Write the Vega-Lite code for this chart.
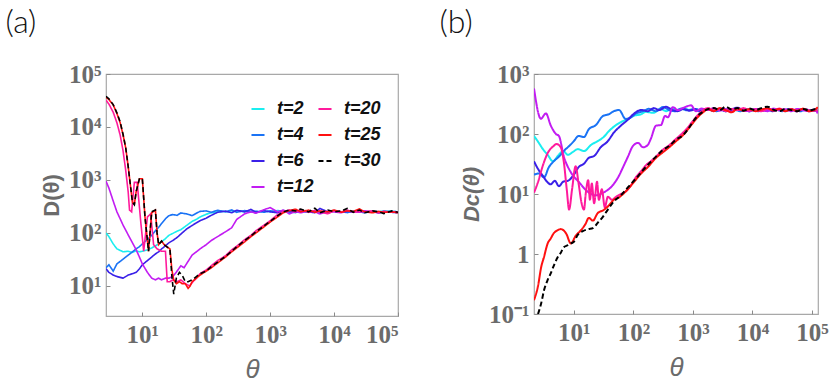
{
"$schema": "https://vega.github.io/schema/vega-lite/v6.json",
"background": "white",
"padding": {"left": 4, "top": 6, "right": 0, "bottom": 4},
"config": {
  "view": {"stroke": "#a8a8a8", "strokeWidth": 1.2},
  "axis": {"domain": false, "grid": false, "ticks": true, "tickSize": -4, "tickColor": "#8a8a8a",
    "labelFont": "Liberation Serif", "labelFontWeight": "bold", "labelFontSize": 25, "labelColor": "#6b6b6b",
    "titleColor": "#6b6b6b", "titleFont": "Liberation Sans"},
  "title": {"anchor": "start", "frame": "bounds", "fontSize": 32, "font": "Lato", "fontWeight": 300, "color": "#111"}
},
"datasets": {
"a": [
{"t":"t=2","x":2.7,"y":100},{"t":"t=2","x":3,"y":85},{"t":"t=2","x":3.5,"y":62},{"t":"t=2","x":4,"y":50},{"t":"t=2","x":5,"y":44},{"t":"t=2","x":6,"y":45},{"t":"t=2","x":7,"y":43},{"t":"t=2","x":8,"y":46},{"t":"t=2","x":9,"y":44},{"t":"t=2","x":10,"y":45},{"t":"t=2","x":12,"y":48},{"t":"t=2","x":14,"y":52},{"t":"t=2","x":16,"y":57},{"t":"t=2","x":18,"y":62},{"t":"t=2","x":20,"y":68},{"t":"t=2","x":23,"y":78},{"t":"t=2","x":26,"y":90},{"t":"t=2","x":30,"y":98},{"t":"t=2","x":35,"y":108},{"t":"t=2","x":40,"y":115},{"t":"t=2","x":50,"y":140},{"t":"t=2","x":60,"y":165},{"t":"t=2","x":70,"y":180},{"t":"t=2","x":80,"y":200},{"t":"t=2","x":100,"y":225},{"t":"t=2","x":120,"y":240},{"t":"t=2","x":150,"y":250},{"t":"t=2","x":200,"y":255},{"t":"t=2","x":250,"y":245},{"t":"t=2","x":300,"y":262},{"t":"t=2","x":400,"y":250},{"t":"t=2","x":500,"y":255},{"t":"t=2","x":600,"y":240},{"t":"t=2","x":800,"y":262},{"t":"t=2","x":1000,"y":250},{"t":"t=2","x":1300,"y":265},{"t":"t=2","x":1600,"y":255},{"t":"t=2","x":2000,"y":240},{"t":"t=2","x":2500,"y":262},{"t":"t=2","x":3000,"y":250},{"t":"t=2","x":4000,"y":245},{"t":"t=2","x":5000,"y":262},{"t":"t=2","x":6000,"y":250},{"t":"t=2","x":8000,"y":240},{"t":"t=2","x":10000,"y":255},{"t":"t=2","x":13000,"y":250},{"t":"t=2","x":16000,"y":245},{"t":"t=2","x":20000,"y":262},{"t":"t=2","x":25000,"y":250},{"t":"t=2","x":30000,"y":255},{"t":"t=2","x":40000,"y":245},{"t":"t=2","x":50000,"y":250},{"t":"t=2","x":60000,"y":262},{"t":"t=2","x":80000,"y":255},{"t":"t=2","x":100000,"y":250},
{"t":"t=4","x":2.7,"y":22},{"t":"t=4","x":3,"y":25},{"t":"t=4","x":3.5,"y":19},{"t":"t=4","x":4,"y":26},{"t":"t=4","x":5,"y":32},{"t":"t=4","x":6,"y":38},{"t":"t=4","x":7,"y":44},{"t":"t=4","x":8,"y":50},{"t":"t=4","x":9,"y":55},{"t":"t=4","x":10,"y":62},{"t":"t=4","x":12,"y":75},{"t":"t=4","x":14,"y":90},{"t":"t=4","x":16,"y":110},{"t":"t=4","x":18,"y":128},{"t":"t=4","x":20,"y":150},{"t":"t=4","x":23,"y":185},{"t":"t=4","x":26,"y":212},{"t":"t=4","x":30,"y":222},{"t":"t=4","x":35,"y":215},{"t":"t=4","x":40,"y":238},{"t":"t=4","x":50,"y":228},{"t":"t=4","x":60,"y":212},{"t":"t=4","x":70,"y":235},{"t":"t=4","x":80,"y":255},{"t":"t=4","x":100,"y":260},{"t":"t=4","x":120,"y":245},{"t":"t=4","x":150,"y":268},{"t":"t=4","x":200,"y":250},{"t":"t=4","x":250,"y":272},{"t":"t=4","x":300,"y":245},{"t":"t=4","x":400,"y":265},{"t":"t=4","x":500,"y":250},{"t":"t=4","x":600,"y":258},{"t":"t=4","x":800,"y":245},{"t":"t=4","x":1000,"y":262},{"t":"t=4","x":1300,"y":248},{"t":"t=4","x":1600,"y":265},{"t":"t=4","x":2000,"y":250},{"t":"t=4","x":2500,"y":242},{"t":"t=4","x":3000,"y":262},{"t":"t=4","x":4000,"y":250},{"t":"t=4","x":5000,"y":255},{"t":"t=4","x":6000,"y":245},{"t":"t=4","x":8000,"y":252},{"t":"t=4","x":10000,"y":265},{"t":"t=4","x":13000,"y":250},{"t":"t=4","x":16000,"y":242},{"t":"t=4","x":20000,"y":255},{"t":"t=4","x":25000,"y":250},{"t":"t=4","x":30000,"y":240},{"t":"t=4","x":40000,"y":255},{"t":"t=4","x":50000,"y":250},{"t":"t=4","x":60000,"y":245},{"t":"t=4","x":80000,"y":255},{"t":"t=4","x":100000,"y":250},
{"t":"t=6","x":2.7,"y":21},{"t":"t=6","x":3,"y":18},{"t":"t=6","x":3.5,"y":16},{"t":"t=6","x":4,"y":15},{"t":"t=6","x":5,"y":14},{"t":"t=6","x":6,"y":16},{"t":"t=6","x":7,"y":17},{"t":"t=6","x":8,"y":18},{"t":"t=6","x":9,"y":21},{"t":"t=6","x":10,"y":25},{"t":"t=6","x":12,"y":30},{"t":"t=6","x":14,"y":35},{"t":"t=6","x":16,"y":40},{"t":"t=6","x":18,"y":44},{"t":"t=6","x":20,"y":50},{"t":"t=6","x":23,"y":57},{"t":"t=6","x":26,"y":65},{"t":"t=6","x":30,"y":72},{"t":"t=6","x":35,"y":82},{"t":"t=6","x":40,"y":95},{"t":"t=6","x":50,"y":120},{"t":"t=6","x":60,"y":138},{"t":"t=6","x":70,"y":155},{"t":"t=6","x":80,"y":170},{"t":"t=6","x":100,"y":190},{"t":"t=6","x":120,"y":215},{"t":"t=6","x":150,"y":245},{"t":"t=6","x":200,"y":258},{"t":"t=6","x":250,"y":240},{"t":"t=6","x":300,"y":268},{"t":"t=6","x":400,"y":250},{"t":"t=6","x":500,"y":278},{"t":"t=6","x":600,"y":245},{"t":"t=6","x":800,"y":262},{"t":"t=6","x":1000,"y":250},{"t":"t=6","x":1300,"y":240},{"t":"t=6","x":1600,"y":262},{"t":"t=6","x":2000,"y":255},{"t":"t=6","x":2500,"y":245},{"t":"t=6","x":3000,"y":268},{"t":"t=6","x":4000,"y":250},{"t":"t=6","x":5000,"y":240},{"t":"t=6","x":6000,"y":290},{"t":"t=6","x":8000,"y":250},{"t":"t=6","x":10000,"y":262},{"t":"t=6","x":13000,"y":245},{"t":"t=6","x":16000,"y":255},{"t":"t=6","x":20000,"y":250},{"t":"t=6","x":25000,"y":268},{"t":"t=6","x":30000,"y":245},{"t":"t=6","x":40000,"y":255},{"t":"t=6","x":50000,"y":238},{"t":"t=6","x":60000,"y":250},{"t":"t=6","x":80000,"y":245},{"t":"t=6","x":100000,"y":240},
{"t":"t=12","x":2.7,"y":950},{"t":"t=12","x":3,"y":700},{"t":"t=12","x":3.5,"y":400},{"t":"t=12","x":4,"y":250},{"t":"t=12","x":5,"y":140},{"t":"t=12","x":6,"y":92},{"t":"t=12","x":7,"y":65},{"t":"t=12","x":8,"y":48},{"t":"t=12","x":9,"y":35},{"t":"t=12","x":10,"y":26},{"t":"t=12","x":12,"y":18},{"t":"t=12","x":14,"y":14},{"t":"t=12","x":16,"y":13},{"t":"t=12","x":18,"y":14},{"t":"t=12","x":20,"y":13},{"t":"t=12","x":23,"y":14},{"t":"t=12","x":26,"y":14},{"t":"t=12","x":30,"y":15},{"t":"t=12","x":35,"y":19},{"t":"t=12","x":40,"y":24},{"t":"t=12","x":45,"y":22},{"t":"t=12","x":50,"y":27},{"t":"t=12","x":60,"y":38},{"t":"t=12","x":70,"y":44},{"t":"t=12","x":80,"y":50},{"t":"t=12","x":100,"y":60},{"t":"t=12","x":120,"y":72},{"t":"t=12","x":150,"y":85},{"t":"t=12","x":200,"y":105},{"t":"t=12","x":250,"y":125},{"t":"t=12","x":300,"y":180},{"t":"t=12","x":400,"y":230},{"t":"t=12","x":500,"y":250},{"t":"t=12","x":600,"y":235},{"t":"t=12","x":800,"y":275},{"t":"t=12","x":1000,"y":300},{"t":"t=12","x":1300,"y":250},{"t":"t=12","x":1600,"y":270},{"t":"t=12","x":2000,"y":228},{"t":"t=12","x":2500,"y":255},{"t":"t=12","x":3000,"y":240},{"t":"t=12","x":4000,"y":262},{"t":"t=12","x":5000,"y":250},{"t":"t=12","x":6000,"y":228},{"t":"t=12","x":8000,"y":255},{"t":"t=12","x":10000,"y":250},{"t":"t=12","x":13000,"y":240},{"t":"t=12","x":16000,"y":265},{"t":"t=12","x":20000,"y":250},{"t":"t=12","x":25000,"y":245},{"t":"t=12","x":30000,"y":262},{"t":"t=12","x":40000,"y":250},{"t":"t=12","x":50000,"y":240},{"t":"t=12","x":60000,"y":255},{"t":"t=12","x":80000,"y":245},{"t":"t=12","x":100000,"y":250},
{"t":"t=20","x":2.7,"y":32000},{"t":"t=20","x":3,"y":27000},{"t":"t=20","x":3.5,"y":19000},{"t":"t=20","x":4,"y":12000},{"t":"t=20","x":4.5,"y":7000},{"t":"t=20","x":5,"y":3500},{"t":"t=20","x":5.5,"y":1500},{"t":"t=20","x":6,"y":600},{"t":"t=20","x":6.3,"y":270},{"t":"t=20","x":6.8,"y":250},{"t":"t=20","x":7.5,"y":900},{"t":"t=20","x":8.3,"y":900},{"t":"t=20","x":9.5,"y":150},{"t":"t=20","x":10.5,"y":45},{"t":"t=20","x":12,"y":200},{"t":"t=20","x":13.5,"y":230},{"t":"t=20","x":15,"y":60},{"t":"t=20","x":17,"y":50},{"t":"t=20","x":20,"y":45},{"t":"t=20","x":23,"y":45},{"t":"t=20","x":24.5,"y":12},{"t":"t=20","x":27,"y":12},{"t":"t=20","x":30,"y":13},{"t":"t=20","x":35,"y":12},{"t":"t=20","x":40,"y":13},{"t":"t=20","x":47,"y":11},{"t":"t=20","x":55,"y":10},{"t":"t=20","x":62,"y":12},{"t":"t=20","x":70,"y":14},{"t":"t=20","x":80,"y":17},{"t":"t=20","x":100,"y":20},{"t":"t=20","x":120,"y":24},{"t":"t=20","x":150,"y":30},{"t":"t=20","x":200,"y":37},{"t":"t=20","x":250,"y":48},{"t":"t=20","x":300,"y":56},{"t":"t=20","x":400,"y":75},{"t":"t=20","x":500,"y":90},{"t":"t=20","x":600,"y":110},{"t":"t=20","x":800,"y":140},{"t":"t=20","x":1000,"y":170},{"t":"t=20","x":1300,"y":220},{"t":"t=20","x":1600,"y":255},{"t":"t=20","x":2000,"y":270},{"t":"t=20","x":2500,"y":250},{"t":"t=20","x":3000,"y":275},{"t":"t=20","x":4000,"y":245},{"t":"t=20","x":5000,"y":265},{"t":"t=20","x":6000,"y":250},{"t":"t=20","x":8000,"y":230},{"t":"t=20","x":10000,"y":260},{"t":"t=20","x":13000,"y":250},{"t":"t=20","x":16000,"y":270},{"t":"t=20","x":20000,"y":245},{"t":"t=20","x":25000,"y":255},{"t":"t=20","x":30000,"y":250},{"t":"t=20","x":40000,"y":260},{"t":"t=20","x":50000,"y":240},{"t":"t=20","x":60000,"y":255},{"t":"t=20","x":80000,"y":250},{"t":"t=20","x":100000,"y":245},
{"t":"t=25","x":2.7,"y":36000},{"t":"t=25","x":3,"y":33000},{"t":"t=25","x":3.5,"y":26000},{"t":"t=25","x":4,"y":18000},{"t":"t=25","x":4.5,"y":12000},{"t":"t=25","x":5,"y":7000},{"t":"t=25","x":5.5,"y":4000},{"t":"t=25","x":6,"y":1800},{"t":"t=25","x":6.5,"y":800},{"t":"t=25","x":7,"y":380},{"t":"t=25","x":7.5,"y":350},{"t":"t=25","x":8,"y":600},{"t":"t=25","x":9,"y":1050},{"t":"t=25","x":10,"y":1050},{"t":"t=25","x":11,"y":200},{"t":"t=25","x":12.5,"y":45},{"t":"t=25","x":14,"y":240},{"t":"t=25","x":16,"y":270},{"t":"t=25","x":17,"y":100},{"t":"t=25","x":18,"y":60},{"t":"t=25","x":20,"y":70},{"t":"t=25","x":22,"y":60},{"t":"t=25","x":24,"y":55},{"t":"t=25","x":27,"y":50},{"t":"t=25","x":29,"y":20},{"t":"t=25","x":31,"y":13},{"t":"t=25","x":34,"y":11},{"t":"t=25","x":38,"y":12},{"t":"t=25","x":42,"y":11},{"t":"t=25","x":47,"y":11},{"t":"t=25","x":52,"y":9},{"t":"t=25","x":56,"y":10},{"t":"t=25","x":60,"y":12},{"t":"t=25","x":70,"y":14},{"t":"t=25","x":80,"y":16},{"t":"t=25","x":100,"y":19},{"t":"t=25","x":120,"y":22},{"t":"t=25","x":150,"y":27},{"t":"t=25","x":200,"y":35},{"t":"t=25","x":250,"y":44},{"t":"t=25","x":300,"y":52},{"t":"t=25","x":400,"y":68},{"t":"t=25","x":500,"y":85},{"t":"t=25","x":600,"y":100},{"t":"t=25","x":800,"y":130},{"t":"t=25","x":1000,"y":160},{"t":"t=25","x":1300,"y":200},{"t":"t=25","x":1600,"y":240},{"t":"t=25","x":2000,"y":265},{"t":"t=25","x":2500,"y":280},{"t":"t=25","x":3000,"y":250},{"t":"t=25","x":4000,"y":270},{"t":"t=25","x":5000,"y":245},{"t":"t=25","x":6000,"y":260},{"t":"t=25","x":8000,"y":250},{"t":"t=25","x":10000,"y":270},{"t":"t=25","x":13000,"y":245},{"t":"t=25","x":16000,"y":260},{"t":"t=25","x":20000,"y":255},{"t":"t=25","x":25000,"y":285},{"t":"t=25","x":30000,"y":250},{"t":"t=25","x":40000,"y":240},{"t":"t=25","x":50000,"y":255},{"t":"t=25","x":60000,"y":245},{"t":"t=25","x":80000,"y":250},{"t":"t=25","x":100000,"y":240},
{"t":"t=30","x":2.7,"y":38000},{"t":"t=30","x":3,"y":34000},{"t":"t=30","x":3.5,"y":26500},{"t":"t=30","x":4,"y":18500},{"t":"t=30","x":4.5,"y":12500},{"t":"t=30","x":5,"y":7200},{"t":"t=30","x":5.5,"y":4000},{"t":"t=30","x":6,"y":1800},{"t":"t=30","x":6.5,"y":800},{"t":"t=30","x":7,"y":380},{"t":"t=30","x":7.5,"y":340},{"t":"t=30","x":8,"y":600},{"t":"t=30","x":9,"y":1050},{"t":"t=30","x":10,"y":1050},{"t":"t=30","x":11,"y":200},{"t":"t=30","x":12.5,"y":45},{"t":"t=30","x":14,"y":250},{"t":"t=30","x":16,"y":270},{"t":"t=30","x":17,"y":100},{"t":"t=30","x":18,"y":60},{"t":"t=30","x":20,"y":70},{"t":"t=30","x":22,"y":60},{"t":"t=30","x":24,"y":55},{"t":"t=30","x":27,"y":50},{"t":"t=30","x":29,"y":15},{"t":"t=30","x":31,"y":7},{"t":"t=30","x":34,"y":14},{"t":"t=30","x":38,"y":18},{"t":"t=30","x":42,"y":16},{"t":"t=30","x":47,"y":12},{"t":"t=30","x":52,"y":12},{"t":"t=30","x":60,"y":13},{"t":"t=30","x":70,"y":15},{"t":"t=30","x":80,"y":17},{"t":"t=30","x":100,"y":19},{"t":"t=30","x":120,"y":23},{"t":"t=30","x":150,"y":28},{"t":"t=30","x":200,"y":36},{"t":"t=30","x":250,"y":45},{"t":"t=30","x":300,"y":55},{"t":"t=30","x":400,"y":72},{"t":"t=30","x":500,"y":88},{"t":"t=30","x":600,"y":105},{"t":"t=30","x":800,"y":135},{"t":"t=30","x":1000,"y":165},{"t":"t=30","x":1300,"y":210},{"t":"t=30","x":1600,"y":250},{"t":"t=30","x":2000,"y":270},{"t":"t=30","x":2500,"y":260},{"t":"t=30","x":3000,"y":282},{"t":"t=30","x":4000,"y":250},{"t":"t=30","x":5000,"y":292},{"t":"t=30","x":6000,"y":240},{"t":"t=30","x":8000,"y":270},{"t":"t=30","x":10000,"y":250},{"t":"t=30","x":13000,"y":260},{"t":"t=30","x":16000,"y":290},{"t":"t=30","x":20000,"y":245},{"t":"t=30","x":25000,"y":270},{"t":"t=30","x":30000,"y":240},{"t":"t=30","x":40000,"y":260},{"t":"t=30","x":50000,"y":250},{"t":"t=30","x":60000,"y":232},{"t":"t=30","x":80000,"y":260},{"t":"t=30","x":100000,"y":245}
],
"b": [
{"t":"t=2","x":2.14,"y":93},{"t":"t=2","x":2.51,"y":74},{"t":"t=2","x":3.02,"y":56},{"t":"t=2","x":3.63,"y":45},{"t":"t=2","x":4.47,"y":35},{"t":"t=2","x":5.37,"y":43},{"t":"t=2","x":6.61,"y":52},{"t":"t=2","x":7.94,"y":45},{"t":"t=2","x":9.55,"y":50},{"t":"t=2","x":11.7,"y":56},{"t":"t=2","x":14.8,"y":52},{"t":"t=2","x":19.5,"y":66},{"t":"t=2","x":25.1,"y":76},{"t":"t=2","x":31.6,"y":89},{"t":"t=2","x":38.9,"y":112},{"t":"t=2","x":46.8,"y":132},{"t":"t=2","x":61.7,"y":158},{"t":"t=2","x":81.3,"y":178},{"t":"t=2","x":100,"y":200},{"t":"t=2","x":135,"y":214},{"t":"t=2","x":162,"y":234},{"t":"t=2","x":214,"y":225},{"t":"t=2","x":288,"y":262},{"t":"t=2","x":355,"y":240},{"t":"t=2","x":450,"y":265},{"t":"t=2","x":560,"y":245},{"t":"t=2","x":700,"y":270},{"t":"t=2","x":900,"y":250},{"t":"t=2","x":1120,"y":262},{"t":"t=2","x":1410,"y":240},{"t":"t=2","x":1780,"y":258},{"t":"t=2","x":2240,"y":245},{"t":"t=2","x":2820,"y":262},{"t":"t=2","x":3550,"y":240},{"t":"t=2","x":4470,"y":255},{"t":"t=2","x":5620,"y":248},{"t":"t=2","x":7080,"y":262},{"t":"t=2","x":8910,"y":240},{"t":"t=2","x":11200,"y":255},{"t":"t=2","x":14100,"y":245},{"t":"t=2","x":17800,"y":262},{"t":"t=2","x":22400,"y":248},{"t":"t=2","x":28200,"y":258},{"t":"t=2","x":35500,"y":240},{"t":"t=2","x":44700,"y":255},{"t":"t=2","x":56200,"y":245},{"t":"t=2","x":70800,"y":260},{"t":"t=2","x":89100,"y":250},{"t":"t=2","x":112000,"y":245},{"t":"t=2","x":125000,"y":250},
{"t":"t=4","x":2.14,"y":21},{"t":"t=4","x":2.57,"y":22},{"t":"t=4","x":3.16,"y":19},{"t":"t=4","x":3.8,"y":28},{"t":"t=4","x":4.57,"y":35},{"t":"t=4","x":5.62,"y":42},{"t":"t=4","x":6.76,"y":52},{"t":"t=4","x":8.32,"y":63},{"t":"t=4","x":10,"y":76},{"t":"t=4","x":12,"y":93},{"t":"t=4","x":14.8,"y":89},{"t":"t=4","x":17.8,"y":120},{"t":"t=4","x":23.4,"y":141},{"t":"t=4","x":30.9,"y":200},{"t":"t=4","x":38.9,"y":214},{"t":"t=4","x":46.8,"y":240},{"t":"t=4","x":57.5,"y":251},{"t":"t=4","x":74.1,"y":178},{"t":"t=4","x":91.2,"y":190},{"t":"t=4","x":110,"y":219},{"t":"t=4","x":145,"y":240},{"t":"t=4","x":182,"y":263},{"t":"t=4","x":240,"y":240},{"t":"t=4","x":316,"y":282},{"t":"t=4","x":398,"y":250},{"t":"t=4","x":500,"y":240},{"t":"t=4","x":630,"y":265},{"t":"t=4","x":795,"y":248},{"t":"t=4","x":1000,"y":258},{"t":"t=4","x":1260,"y":240},{"t":"t=4","x":1590,"y":262},{"t":"t=4","x":2000,"y":250},{"t":"t=4","x":2510,"y":240},{"t":"t=4","x":3160,"y":265},{"t":"t=4","x":3980,"y":248},{"t":"t=4","x":5010,"y":255},{"t":"t=4","x":6310,"y":240},{"t":"t=4","x":7940,"y":258},{"t":"t=4","x":10000,"y":250},{"t":"t=4","x":12600,"y":240},{"t":"t=4","x":15800,"y":262},{"t":"t=4","x":20000,"y":248},{"t":"t=4","x":25100,"y":255},{"t":"t=4","x":31600,"y":240},{"t":"t=4","x":39800,"y":258},{"t":"t=4","x":50100,"y":248},{"t":"t=4","x":63100,"y":240},{"t":"t=4","x":79400,"y":255},{"t":"t=4","x":100000,"y":245},{"t":"t=4","x":125000,"y":240},
{"t":"t=6","x":2.14,"y":35},{"t":"t=6","x":2.51,"y":26},{"t":"t=6","x":3.02,"y":20},{"t":"t=6","x":3.55,"y":16},{"t":"t=6","x":4.07,"y":14.5},{"t":"t=6","x":4.79,"y":16.6},{"t":"t=6","x":5.62,"y":13.5},{"t":"t=6","x":6.61,"y":16},{"t":"t=6","x":7.94,"y":16.6},{"t":"t=6","x":10,"y":21},{"t":"t=6","x":12,"y":28},{"t":"t=6","x":14.8,"y":32},{"t":"t=6","x":17.8,"y":40},{"t":"t=6","x":21.9,"y":43},{"t":"t=6","x":28.2,"y":60},{"t":"t=6","x":37.2,"y":76},{"t":"t=6","x":46.8,"y":105},{"t":"t=6","x":61.7,"y":138},{"t":"t=6","x":81.3,"y":174},{"t":"t=6","x":100,"y":214},{"t":"t=6","x":135,"y":251},{"t":"t=6","x":174,"y":240},{"t":"t=6","x":220,"y":270},{"t":"t=6","x":275,"y":250},{"t":"t=6","x":350,"y":285},{"t":"t=6","x":440,"y":255},{"t":"t=6","x":550,"y":240},{"t":"t=6","x":700,"y":262},{"t":"t=6","x":880,"y":245},{"t":"t=6","x":1100,"y":260},{"t":"t=6","x":1400,"y":240},{"t":"t=6","x":1760,"y":258},{"t":"t=6","x":2200,"y":245},{"t":"t=6","x":2800,"y":262},{"t":"t=6","x":3500,"y":240},{"t":"t=6","x":4400,"y":255},{"t":"t=6","x":5500,"y":275},{"t":"t=6","x":7000,"y":250},{"t":"t=6","x":8800,"y":240},{"t":"t=6","x":11000,"y":262},{"t":"t=6","x":14000,"y":245},{"t":"t=6","x":17600,"y":255},{"t":"t=6","x":22000,"y":240},{"t":"t=6","x":28000,"y":258},{"t":"t=6","x":35000,"y":248},{"t":"t=6","x":44000,"y":262},{"t":"t=6","x":55000,"y":240},{"t":"t=6","x":70000,"y":252},{"t":"t=6","x":88000,"y":245},{"t":"t=6","x":110000,"y":255},{"t":"t=6","x":125000,"y":240},
{"t":"t=12","x":2.14,"y":575},{"t":"t=12","x":2.79,"y":180},{"t":"t=12","x":3.39,"y":220},{"t":"t=12","x":4.1,"y":138},{"t":"t=12","x":5,"y":100},{"t":"t=12","x":5.6,"y":93},{"t":"t=12","x":6.8,"y":42},{"t":"t=12","x":8.9,"y":23},{"t":"t=12","x":12,"y":16},{"t":"t=12","x":18,"y":10.5},{"t":"t=12","x":23.5,"y":9.5},{"t":"t=12","x":31,"y":10.5},{"t":"t=12","x":45,"y":14},{"t":"t=12","x":57,"y":20},{"t":"t=12","x":67,"y":28},{"t":"t=12","x":81,"y":42},{"t":"t=12","x":98,"y":63},{"t":"t=12","x":120,"y":71},{"t":"t=12","x":145,"y":60},{"t":"t=12","x":175,"y":66},{"t":"t=12","x":196,"y":83},{"t":"t=12","x":240,"y":138},{"t":"t=12","x":290,"y":141},{"t":"t=12","x":340,"y":200},{"t":"t=12","x":380,"y":190},{"t":"t=12","x":460,"y":280},{"t":"t=12","x":560,"y":250},{"t":"t=12","x":700,"y":275},{"t":"t=12","x":930,"y":300},{"t":"t=12","x":1120,"y":240},{"t":"t=12","x":1400,"y":265},{"t":"t=12","x":1780,"y":250},{"t":"t=12","x":2240,"y":270},{"t":"t=12","x":2820,"y":245},{"t":"t=12","x":3550,"y":262},{"t":"t=12","x":4470,"y":240},{"t":"t=12","x":5620,"y":268},{"t":"t=12","x":7080,"y":250},{"t":"t=12","x":8910,"y":240},{"t":"t=12","x":11200,"y":262},{"t":"t=12","x":14100,"y":250},{"t":"t=12","x":17800,"y":240},{"t":"t=12","x":22400,"y":265},{"t":"t=12","x":28200,"y":248},{"t":"t=12","x":35500,"y":258},{"t":"t=12","x":44700,"y":240},{"t":"t=12","x":56200,"y":262},{"t":"t=12","x":70800,"y":250},{"t":"t=12","x":89100,"y":240},{"t":"t=12","x":112000,"y":255},{"t":"t=12","x":125000,"y":220},
{"t":"t=20","x":2.14,"y":10.5},{"t":"t=20","x":2.51,"y":16},{"t":"t=20","x":3.02,"y":30},{"t":"t=20","x":3.63,"y":48},{"t":"t=20","x":4.47,"y":62},{"t":"t=20","x":5.13,"y":68},{"t":"t=20","x":6.03,"y":60},{"t":"t=20","x":6.76,"y":35},{"t":"t=20","x":7.59,"y":12},{"t":"t=20","x":8.32,"y":5.5},{"t":"t=20","x":9.33,"y":12},{"t":"t=20","x":10.7,"y":29},{"t":"t=20","x":12,"y":15},{"t":"t=20","x":13.5,"y":7},{"t":"t=20","x":14.8,"y":5.5},{"t":"t=20","x":15.8,"y":10},{"t":"t=20","x":17.4,"y":17},{"t":"t=20","x":18.6,"y":8},{"t":"t=20","x":20,"y":15},{"t":"t=20","x":21.9,"y":7},{"t":"t=20","x":24.5,"y":16},{"t":"t=20","x":26.3,"y":8},{"t":"t=20","x":29.5,"y":12},{"t":"t=20","x":33.1,"y":6},{"t":"t=20","x":37.2,"y":9},{"t":"t=20","x":43.7,"y":8},{"t":"t=20","x":51.3,"y":9},{"t":"t=20","x":61.7,"y":10},{"t":"t=20","x":74.1,"y":11},{"t":"t=20","x":91.2,"y":14},{"t":"t=20","x":110,"y":19},{"t":"t=20","x":135,"y":24},{"t":"t=20","x":162,"y":30},{"t":"t=20","x":195,"y":35},{"t":"t=20","x":240,"y":42},{"t":"t=20","x":316,"y":55},{"t":"t=20","x":400,"y":65},{"t":"t=20","x":500,"y":80},{"t":"t=20","x":630,"y":98},{"t":"t=20","x":800,"y":125},{"t":"t=20","x":1000,"y":165},{"t":"t=20","x":1200,"y":205},{"t":"t=20","x":1450,"y":245},{"t":"t=20","x":1780,"y":270},{"t":"t=20","x":2240,"y":250},{"t":"t=20","x":2820,"y":265},{"t":"t=20","x":3550,"y":240},{"t":"t=20","x":4470,"y":262},{"t":"t=20","x":5620,"y":250},{"t":"t=20","x":7080,"y":270},{"t":"t=20","x":8910,"y":245},{"t":"t=20","x":11200,"y":258},{"t":"t=20","x":14100,"y":240},{"t":"t=20","x":17800,"y":262},{"t":"t=20","x":22400,"y":250},{"t":"t=20","x":28200,"y":265},{"t":"t=20","x":35500,"y":245},{"t":"t=20","x":44700,"y":258},{"t":"t=20","x":56200,"y":240},{"t":"t=20","x":70800,"y":262},{"t":"t=20","x":89100,"y":250},{"t":"t=20","x":112000,"y":245},{"t":"t=20","x":125000,"y":250},
{"t":"t=25","x":2.14,"y":0.17},{"t":"t=25","x":2.51,"y":0.3},{"t":"t=25","x":2.82,"y":0.6},{"t":"t=25","x":3.16,"y":0.9},{"t":"t=25","x":3.63,"y":1.5},{"t":"t=25","x":4.07,"y":1.8},{"t":"t=25","x":4.57,"y":2.2},{"t":"t=25","x":5.37,"y":2.5},{"t":"t=25","x":6.03,"y":2.6},{"t":"t=25","x":7.41,"y":2.2},{"t":"t=25","x":8.91,"y":1.5},{"t":"t=25","x":10.7,"y":2},{"t":"t=25","x":13.2,"y":2.5},{"t":"t=25","x":15.8,"y":3.2},{"t":"t=25","x":17.8,"y":4},{"t":"t=25","x":20.9,"y":3.6},{"t":"t=25","x":25.1,"y":4.8},{"t":"t=25","x":31.6,"y":5.4},{"t":"t=25","x":38.9,"y":6.5},{"t":"t=25","x":46.8,"y":8},{"t":"t=25","x":57.5,"y":8.8},{"t":"t=25","x":74.1,"y":11},{"t":"t=25","x":97.7,"y":15},{"t":"t=25","x":135,"y":22},{"t":"t=25","x":174,"y":28},{"t":"t=25","x":240,"y":40},{"t":"t=25","x":316,"y":50},{"t":"t=25","x":398,"y":60},{"t":"t=25","x":513,"y":75},{"t":"t=25","x":676,"y":95},{"t":"t=25","x":933,"y":140},{"t":"t=25","x":1200,"y":190},{"t":"t=25","x":1480,"y":230},{"t":"t=25","x":1780,"y":260},{"t":"t=25","x":2240,"y":240},{"t":"t=25","x":2820,"y":270},{"t":"t=25","x":3550,"y":250},{"t":"t=25","x":4470,"y":230},{"t":"t=25","x":5620,"y":265},{"t":"t=25","x":7080,"y":245},{"t":"t=25","x":8910,"y":260},{"t":"t=25","x":11200,"y":240},{"t":"t=25","x":14100,"y":255},{"t":"t=25","x":17800,"y":270},{"t":"t=25","x":22400,"y":245},{"t":"t=25","x":28200,"y":262},{"t":"t=25","x":35500,"y":240},{"t":"t=25","x":44700,"y":258},{"t":"t=25","x":56200,"y":245},{"t":"t=25","x":70800,"y":265},{"t":"t=25","x":89100,"y":240},{"t":"t=25","x":112000,"y":255},{"t":"t=25","x":125000,"y":280},
{"t":"t=30","x":2.5,"y":0.1},{"t":"t=30","x":2.82,"y":0.15},{"t":"t=30","x":3.16,"y":0.25},{"t":"t=30","x":3.63,"y":0.37},{"t":"t=30","x":4.07,"y":0.47},{"t":"t=30","x":4.57,"y":0.63},{"t":"t=30","x":5.37,"y":0.89},{"t":"t=30","x":6.03,"y":1.05},{"t":"t=30","x":6.76,"y":1.3},{"t":"t=30","x":7.94,"y":1.4},{"t":"t=30","x":8.91,"y":1.5},{"t":"t=30","x":10,"y":1.6},{"t":"t=30","x":11.7,"y":2.1},{"t":"t=30","x":14.1,"y":2.4},{"t":"t=30","x":17.4,"y":2.6},{"t":"t=30","x":20.9,"y":2.7},{"t":"t=30","x":25.1,"y":3.3},{"t":"t=30","x":30.9,"y":4.2},{"t":"t=30","x":37.2,"y":5.5},{"t":"t=30","x":46.8,"y":7.5},{"t":"t=30","x":61.7,"y":9.5},{"t":"t=30","x":81.3,"y":13},{"t":"t=30","x":110,"y":18},{"t":"t=30","x":145,"y":25},{"t":"t=30","x":182,"y":32},{"t":"t=30","x":240,"y":42},{"t":"t=30","x":316,"y":55},{"t":"t=30","x":398,"y":63},{"t":"t=30","x":513,"y":80},{"t":"t=30","x":676,"y":95},{"t":"t=30","x":851,"y":125},{"t":"t=30","x":1000,"y":160},{"t":"t=30","x":1200,"y":200},{"t":"t=30","x":1480,"y":235},{"t":"t=30","x":1780,"y":260},{"t":"t=30","x":2240,"y":270},{"t":"t=30","x":2820,"y":250},{"t":"t=30","x":3550,"y":285},{"t":"t=30","x":4470,"y":255},{"t":"t=30","x":5620,"y":270},{"t":"t=30","x":7080,"y":245},{"t":"t=30","x":8910,"y":265},{"t":"t=30","x":11200,"y":250},{"t":"t=30","x":14100,"y":270},{"t":"t=30","x":17800,"y":285},{"t":"t=30","x":22400,"y":255},{"t":"t=30","x":28200,"y":240},{"t":"t=30","x":35500,"y":262},{"t":"t=30","x":44700,"y":250},{"t":"t=30","x":56200,"y":240},{"t":"t=30","x":70800,"y":262},{"t":"t=30","x":89100,"y":245},{"t":"t=30","x":112000,"y":258},{"t":"t=30","x":125000,"y":240}
]
},
"spacing": 38,
"resolve": {"scale": {"color": "independent", "strokeDash": "independent"}, "legend": {"color": "independent", "strokeDash": "independent"}},
"hconcat": [
{
  "width": 292, "height": 242,
  "title": {"text": "(a)", "dx": -35, "offset": 22},
  "data": {"name": "a"},
  "mark": {"type": "line", "strokeWidth": 1.6, "clip": true},
  "encoding": {
    "x": {"field": "x", "type": "quantitative", "scale": {"type": "log", "domain": [2.7, 100000], "nice": false},
      "axis": {"values": [10, 100, 1000, 10000, 100000], "title": "θ", "titleFontSize": 26, "titleFontStyle": "italic", "titleFontWeight": "normal", "labelPadding": 10, "titlePadding": 9,
        "labelExpr": "datum.value == 0.1 ? '10⁻¹' : datum.value == 1 ? '1' : datum.value == 10 ? '10¹' : datum.value == 100 ? '10²' : datum.value == 1000 ? '10³' : datum.value == 10000 ? '10⁴' : '10⁵'"}},
    "y": {"field": "y", "type": "quantitative", "scale": {"type": "log", "domain": [2.7, 100000], "nice": false},
      "axis": {"values": [10, 100, 1000, 10000, 100000], "title": "D(θ)", "titleFontSize": 22, "titleFontWeight": "bold", "labelPadding": 9, "titlePadding": 5,
        "labelExpr": "datum.value == 0.1 ? '10⁻¹' : datum.value == 1 ? '1' : datum.value == 10 ? '10¹' : datum.value == 100 ? '10²' : datum.value == 1000 ? '10³' : datum.value == 10000 ? '10⁴' : '10⁵'"}},
    "color": {"field": "t", "type": "nominal",
      "scale": {"domain": ["t=2", "t=4", "t=6", "t=12", "t=20", "t=25", "t=30"], "range": ["#1aeef0", "#1a73f5", "#3a20e8", "#c21cf2", "#ff1a9c", "#ff1010", "#000000"]},
      "legend": {"title": null, "orient": "none", "legendX": 143, "legendY": 26, "columns": 2, "columnPadding": 0, "rowPadding": 8,
        "symbolType": "stroke", "symbolSize": 170, "symbolStrokeWidth": 2, "labelOffset": 10, "labelFont": "Liberation Sans", "labelFontSize": 18, "labelFontWeight": "bold", "labelFontStyle": "italic", "labelColor": "#111", "padding": 0}},
    "strokeDash": {"field": "t", "type": "nominal",
      "scale": {"domain": ["t=2", "t=4", "t=6", "t=12", "t=20", "t=25", "t=30"], "range": [[1, 0], [1, 0], [1, 0], [1, 0], [1, 0], [1, 0], [5, 3]]},
      "legend": {"title": null, "orient": "none", "legendX": 143, "legendY": 26, "columns": 2, "columnPadding": 0, "rowPadding": 8,
        "symbolType": "stroke", "symbolSize": 170, "symbolStrokeWidth": 2, "labelOffset": 10, "labelFont": "Liberation Sans", "labelFontSize": 18, "labelFontWeight": "bold", "labelFontStyle": "italic", "labelColor": "#111", "padding": 0}}
  }
},
{
  "width": 284, "height": 240,
  "title": {"text": "(b)", "dx": -21, "offset": 22},
  "data": {"name": "b"},
  "mark": {"type": "line", "strokeWidth": 2, "clip": true, "interpolate": "monotone"},
  "encoding": {
    "x": {"field": "x", "type": "quantitative", "scale": {"type": "log", "domain": [2.14, 126000], "nice": false},
      "axis": {"values": [10, 100, 1000, 10000, 100000], "title": "θ", "titleFontSize": 26, "titleFontStyle": "italic", "titleFontWeight": "normal", "labelPadding": 10, "titlePadding": 9,
        "labelExpr": "datum.value == 0.1 ? '10⁻¹' : datum.value == 1 ? '1' : datum.value == 10 ? '10¹' : datum.value == 100 ? '10²' : datum.value == 1000 ? '10³' : datum.value == 10000 ? '10⁴' : '10⁵'"}},
    "y": {"field": "y", "type": "quantitative", "scale": {"type": "log", "domain": [0.1, 1000], "nice": false},
      "axis": {"values": [0.1, 1, 10, 100, 1000], "title": "Dc(θ)", "titleFontSize": 22, "titleFontWeight": "bold", "titleFontStyle": "italic", "labelPadding": 9, "titlePadding": 5,
        "labelExpr": "datum.value == 0.1 ? '10⁻¹' : datum.value == 1 ? '1' : datum.value == 10 ? '10¹' : datum.value == 100 ? '10²' : datum.value == 1000 ? '10³' : datum.value == 10000 ? '10⁴' : '10⁵'"}},
    "color": {"field": "t", "type": "nominal",
      "scale": {"domain": ["t=2", "t=4", "t=6", "t=12", "t=20", "t=25", "t=30"], "range": ["#1aeef0", "#1a73f5", "#3a20e8", "#c21cf2", "#ff1a9c", "#ff1010", "#000000"]},
      "legend": null},
    "strokeDash": {"field": "t", "type": "nominal",
      "scale": {"domain": ["t=2", "t=4", "t=6", "t=12", "t=20", "t=25", "t=30"], "range": [[1, 0], [1, 0], [1, 0], [1, 0], [1, 0], [1, 0], [5, 3]]},
      "legend": null}
  }
}
]
}
